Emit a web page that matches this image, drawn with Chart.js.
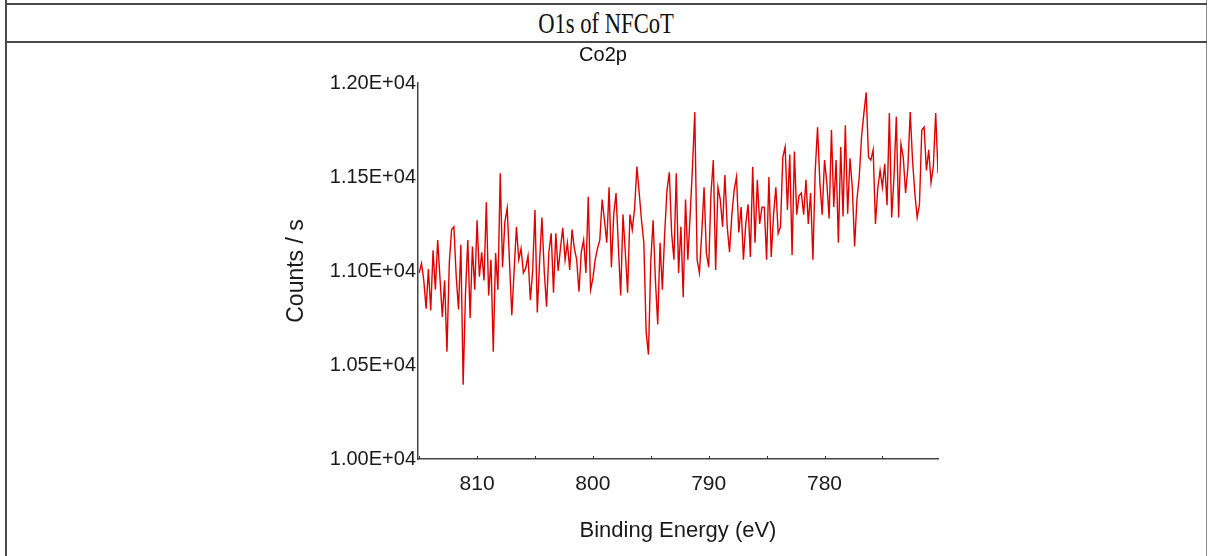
<!DOCTYPE html>
<html>
<head>
    <title>Co2p spectrum</title>
    <script src="https://cdn.jsdelivr.net/npm/chart.js"></script>
    <style>
        body { margin: 0; background: #fff; width: 1208px; height: 556px; overflow: hidden; position: relative; }
        .line { position: absolute; background: #4a4a4a; }
        #head { position: absolute; left: 6px; width: 1200px; top: 5px; height: 36px; line-height: 36px;
                text-align: center; font-family: 'Liberation Serif', 'Times New Roman', serif; font-size: 29px; color: #111; }
        #head span { display: inline-block; transform: scaleX(0.78); }
        #spectrum { position: absolute; left: 0; top: 0; }
    </style>
</head>
<body>
    <!-- table frame around the figure -->
    <div class="line" style="left:5px; top:0; width:2px; height:556px;"></div>
    <div class="line" style="left:1206px; top:0; width:1px; height:556px; background:#8a8a8a;"></div>
    <div class="line" style="left:5px; top:3px; width:1202px; height:2px;"></div>
    <div class="line" style="left:5px; top:41px; width:1202px; height:2px;"></div>
    <div id="head"><span>O1s of NFCoT</span></div>
    <canvas id="spectrum" width="1208" height="556"></canvas>
    <script>
        // binding energy (eV), 0.2 eV steps
        const energies = [
            815.0, 814.8, 814.6, 814.4, 814.2, 814.0, 813.8, 813.6, 813.4, 813.2,
            813.0, 812.8, 812.6, 812.4, 812.2, 812.0, 811.8, 811.6, 811.4, 811.2,
            811.0, 810.8, 810.6, 810.4, 810.2, 810.0, 809.8, 809.6, 809.4, 809.2,
            809.0, 808.8, 808.6, 808.4, 808.2, 808.0, 807.8, 807.6, 807.4, 807.2,
            807.0, 806.8, 806.6, 806.4, 806.2, 806.0, 805.8, 805.6, 805.4, 805.2,
            805.0, 804.8, 804.6, 804.4, 804.2, 804.0, 803.8, 803.6, 803.4, 803.2,
            803.0, 802.8, 802.6, 802.4, 802.2, 802.0, 801.8, 801.6, 801.4, 801.2,
            801.0, 800.8, 800.6, 800.4, 800.2, 800.0, 799.8, 799.6, 799.4, 799.2,
            799.0, 798.8, 798.6, 798.4, 798.2, 798.0, 797.8, 797.6, 797.4, 797.2,
            797.0, 796.8, 796.6, 796.4, 796.2, 796.0, 795.8, 795.6, 795.4, 795.2,
            795.0, 794.8, 794.6, 794.4, 794.2, 794.0, 793.8, 793.6, 793.4, 793.2,
            793.0, 792.8, 792.6, 792.4, 792.2, 792.0, 791.8, 791.6, 791.4, 791.2,
            791.0, 790.8, 790.6, 790.4, 790.2, 790.0, 789.8, 789.6, 789.4, 789.2,
            789.0, 788.8, 788.6, 788.4, 788.2, 788.0, 787.8, 787.6, 787.4, 787.2,
            787.0, 786.8, 786.6, 786.4, 786.2, 786.0, 785.8, 785.6, 785.4, 785.2,
            785.0, 784.8, 784.6, 784.4, 784.2, 784.0, 783.8, 783.6, 783.4, 783.2,
            783.0, 782.8, 782.6, 782.4, 782.2, 782.0, 781.8, 781.6, 781.4, 781.2,
            781.0, 780.8, 780.6, 780.4, 780.2, 780.0, 779.8, 779.6, 779.4, 779.2,
            779.0, 778.8, 778.6, 778.4, 778.2, 778.0, 777.8, 777.6, 777.4, 777.2,
            777.0, 776.8, 776.6, 776.4, 776.2, 776.0, 775.8, 775.6, 775.4, 775.2,
            775.0, 774.8, 774.6, 774.4, 774.2, 774.0, 773.8, 773.6, 773.4, 773.2,
            773.0, 772.8, 772.6, 772.4, 772.2, 772.0, 771.8, 771.6, 771.4, 771.2,
            771.0, 770.8, 770.6, 770.4, 770.2
        ];
        // counts / s at each energy
        const counts = [
            10990, 11040, 10950, 10800, 11010, 10790, 11110, 10900, 11165, 10960,
            10755, 10950, 10570, 11040, 11220, 11235, 10970, 10795, 11140, 10395,
            10880, 11165, 10750, 11130, 10900, 11270, 10970, 11100, 10950, 11365,
            10870, 11060, 10570, 11095, 10900, 11520, 11020, 11260, 11335, 11050,
            10765, 11000, 11235, 11060, 11120, 10990, 11015, 11080, 10845, 11000,
            11325, 10780, 11050, 11285, 11000, 10810, 11100, 11200, 10885, 11200,
            11000, 11120, 11230, 11060, 11150, 11005, 11220, 11120, 11060, 10890,
            11100, 11165, 10990, 11395, 10900, 10960, 11060, 11120, 11165, 11380,
            11270, 11150, 11445, 11020, 11300, 11415, 11130, 10870, 11300, 11100,
            10885, 11300, 11220, 11330, 11555, 11415, 11270, 11150, 10675, 10555,
            11050, 11270, 10950, 10715, 11150, 10900, 11200, 11430, 11525, 11200,
            11060, 11520, 10990, 11235, 10860, 11380, 11060, 11300, 11555, 11845,
            11060, 10990, 11200, 11445, 11095, 11020, 11415, 11590, 11005, 11445,
            11380, 11235, 11510, 11235, 11100, 11300, 11430, 11500, 11205, 11340,
            11060, 11250, 11355, 11075, 11555, 11150, 11485, 11250, 11340, 11340,
            11060, 11500, 11075, 11300, 11445, 11200, 11235, 11605, 11660, 11325,
            11620, 11085, 11635, 11300, 11400, 11415, 11300, 11485, 11250, 11415,
            11060, 11535, 11765, 11470, 11300, 11590, 11470, 11280, 11750, 11340,
            11590, 11150, 11660, 11290, 11775, 11305, 11600, 11445, 11130, 11380,
            11500, 11715, 11840, 11950, 11605, 11590, 11645, 11250, 11440, 11535,
            11445, 11570, 11350, 11840, 11285, 11500, 11820, 11285, 11675, 11605,
            11415, 11550, 11845, 11590, 11415, 11285, 11355, 11750, 11765, 11535,
            11645, 11470, 11560, 11840, 11520
        ];
        const yTicks = [10000, 10500, 11000, 11500, 12000];
        const xLabelled = [810, 800, 790, 780];

        const sans = "Arial, 'Liberation Sans', sans-serif";

        // small tick marks pointing into the plot, like the original software draws
        const innerTicks = {
            id: 'innerTicks',
            afterDatasetsDraw(chart) {
                const ctx = chart.ctx;
                const x = chart.scales.x;
                ctx.save();
                ctx.strokeStyle = '#333';
                ctx.lineWidth = 1;
                x.ticks.forEach(t => {
                    const px = Math.round(x.getPixelForValue(t.value)) + 0.5;
                    ctx.beginPath();
                    ctx.moveTo(px, x.top);
                    ctx.lineTo(px, x.top - 3);
                    ctx.stroke();
                });
                ctx.restore();
            }
        };

        new Chart(document.getElementById('spectrum'), {
            type: 'line',
            data: {
                datasets: [{
                    label: 'Co2p',
                    data: energies.map((e, i) => ({ x: e, y: counts[i] })),
                    borderColor: 'rgb(225, 0, 0)',
                    borderWidth: 1.4,
                    pointRadius: 0,
                    tension: 0,
                    fill: false
                }]
            },
            options: {
                responsive: false,
                animation: false,
                devicePixelRatio: 1,
                layout: { padding: { left: 268, right: 270, top: 43, bottom: 0 } },
                plugins: {
                    legend: { display: false },
                    tooltip: { enabled: false },
                    title: {
                        display: true,
                        text: 'Co2p',
                        color: '#111',
                        font: { family: sans, size: 20, weight: 'normal' },
                        padding: { top: 0, bottom: 16 }
                    }
                },
                scales: {
                    x: {
                        type: 'linear',
                        reverse: true,
                        min: 770.2,
                        max: 815.1,
                        afterFit: s => { s.height = 97; },
                        grid: { display: false, drawTicks: false },
                        border: { display: true, color: '#444', width: 1.5 },
                        ticks: {
                            stepSize: 5,
                            includeBounds: false,
                            autoSkip: false,
                            maxRotation: 0,
                            padding: 13,
                            color: '#1a1a1a',
                            font: { family: sans, size: 21 },
                            callback: v => xLabelled.includes(v) ? String(v) : ''
                        },
                        title: {
                            display: true,
                            text: 'Binding Energy (eV)',
                            color: '#1a1a1a',
                            font: { family: sans, size: 22 },
                            padding: { top: 0, bottom: 12 }
                        }
                    },
                    y: {
                        min: yTicks[0],
                        max: yTicks[yTicks.length - 1],
                        afterFit: s => { s.width = 150; },
                        afterBuildTicks: s => { s.ticks = yTicks.map(v => ({ value: v })); },
                        grid: { display: false, drawTicks: false },
                        border: { display: true, color: '#444', width: 1.5 },
                        ticks: {
                            padding: 2,
                            color: '#1a1a1a',
                            font: { family: sans, size: 20 },
                            callback: v => (v / 10000).toFixed(2) + 'E+04'
                        },
                        title: {
                            display: true,
                            text: 'Counts / s',
                            color: '#1a1a1a',
                            font: { family: sans, size: 23 },
                            padding: { top: 15, bottom: 0 }
                        }
                    }
                }
            },
            plugins: [innerTicks]
        });
    </script>
</body>
</html>
